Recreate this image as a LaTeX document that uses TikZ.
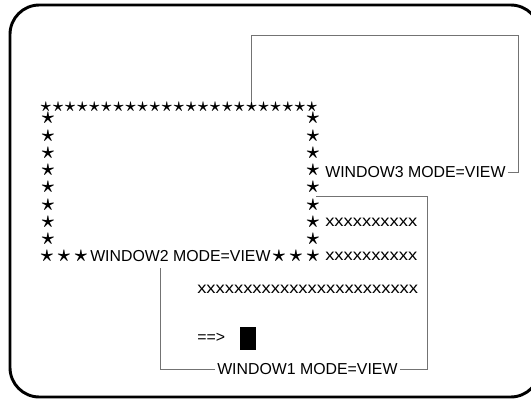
\documentclass[tikz,border=0pt]{standalone}
\usepackage{fontspec}
\setmainfont{Liberation Sans}
\newcommand\scrfont{\fontsize{11.9}{14}\selectfont}
\newcommand\bstar{{\boldmath$\star$}}

\begin{document}
\begin{tikzpicture}[x=0.75pt,y=-0.75pt,
  txt/.style={inner sep=0pt,anchor=west,font=\scrfont},
  tstar/.style={inner sep=0pt,font=\fontsize{14}{14}\selectfont},
  cstar/.style={inner sep=0pt,font=\fontsize{18}{18}\selectfont},
  frame/.style={draw=black!55,line width=0.6pt}]
\clip (0,0) rectangle (531,400);
\draw[line width=2.2pt,rounded corners=22pt] (10,5) rectangle (540,397);
% window 2 border
\foreach \i in {0,...,22}
  \node[tstar] (t\i) at (46+12.09*\i,107) {\bstar};
\foreach \r in {1,...,8}{
  \node[cstar] (l\r) at (48,101+17.3*\r) {\bstar};
  \node[cstar] (r\r) at (313,101+17.3*\r) {\bstar};
}
\foreach \x [count=\k] in {47,64,81,279,296,313}
  \node[cstar] (b\k) at (\x,256) {\bstar};
\node[txt] (w2) at (90,256) {WINDOW2 MODE=VIEW};
% screen text
\node[txt] (w3) at (325,172) {WINDOW3 MODE=VIEW};
\node[txt] (xa) at (325,222) {\scalebox{1.16}[1]{xxxxxxxxxx}};
\node[txt] (xb) at (325,256) {\scalebox{1.16}[1]{xxxxxxxxxx}};
\node[txt] (xc) at (197,289) {\scalebox{1.16}[1]{xxxxxxxxxxxxxxxxxxxxxxxx}};
\node[txt] (prompt) at (197,338) {==>};
\fill (240,327) rectangle (256,350);
\node[txt] (w1) at (217,369) {WINDOW1 MODE=VIEW};
% window frames
\coordinate (w3top) at (518,35);
\coordinate (w1a) at (160,268);
\coordinate (w1b) at (427,196);
\coordinate (w1c) at (316,196);
\draw[frame] ([xshift=1.5pt]w3.east) -| (w3top) -| (t17.north);
\draw[frame] ([xshift=-1.5pt]w1.west) -| (w1a);
\draw[frame] ([xshift=1.5pt]w1.east) -| (w1b) -- (w1c);
\end{tikzpicture}
\end{document}
